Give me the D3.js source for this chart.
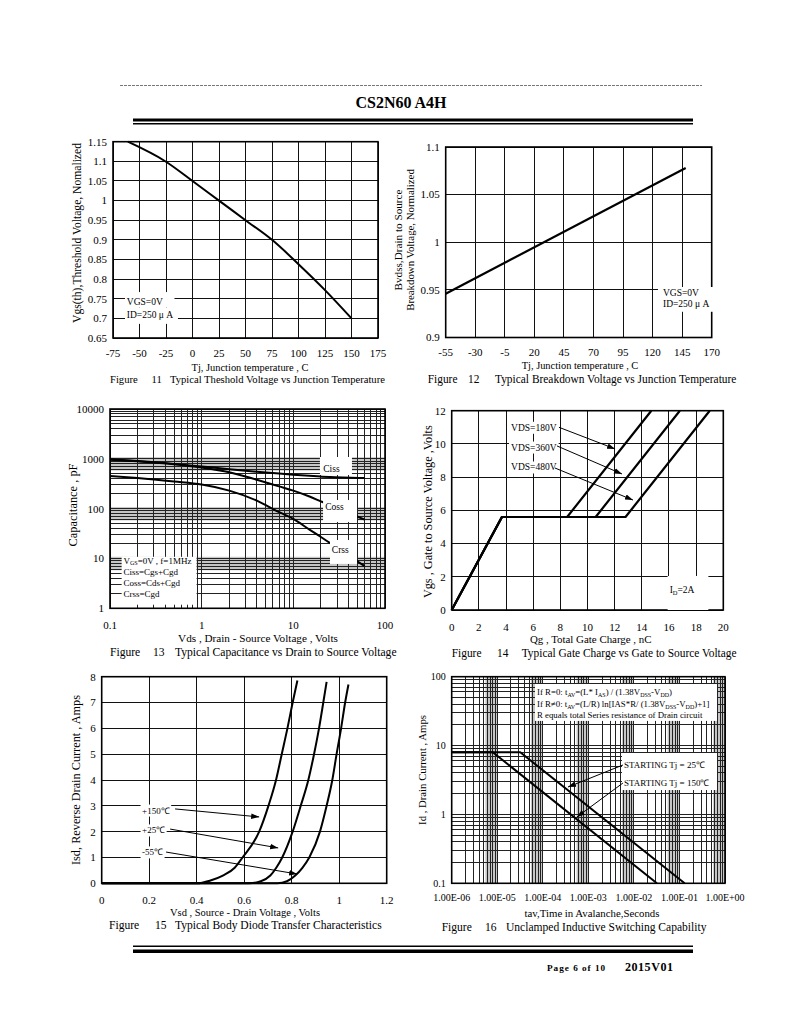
<!DOCTYPE html>
<html>
<head>
<meta charset="utf-8">
<script src="https://cdn.jsdelivr.net/npm/d3@7/dist/d3.min.js"></script>
<style>
  body { margin: 0; background: #fff; }
  svg text { font-family: "Liberation Serif", "Times New Roman", serif; fill: #000; }
</style>
</head>
<body>
<div id="page"></div>
<script>
// ---- Figure 11: threshold voltage vs Tj
var tjVth = [-61, -25, 0, 25, 50, 75, 100, 125, 150];
var vthNorm = [1.15, 1.099, 1.05, 1.0, 0.95, 0.9, 0.838, 0.772, 0.70];
var f11XTicks = [-75, -50, -25, 0, 25, 50, 75, 100, 125, 150, 175];
var f11YTicks = [0.65, 0.7, 0.75, 0.8, 0.85, 0.9, 0.95, 1, 1.05, 1.1, 1.15];
var f11YLabels = ["0.65", "0.7", "0.75", "0.8", "0.85", "0.9", "0.95", "1", "1.05", "1.1", "1.15"];

// ---- Figure 12: breakdown voltage vs Tj
var tjBv = [-55, 148];
var bvNorm = [0.946, 1.078];
var f12XTicks = [-55, -30, -5, 20, 45, 70, 95, 120, 145, 170];
var f12YTicks = [0.9, 0.95, 1, 1.05, 1.1];
var f12YLabels = ["0.9", "0.95", "1", "1.05", "1.1"];

// ---- Figure 13: capacitance vs Vds
var vdsCap = [0.1, 0.2, 0.5, 1, 2, 4, 7, 10, 15, 20, 25, 35, 60];
var ciss = [980, 900, 790, 700, 620, 550, 505, 480, 455, 440, 430, 420, 410];
var coss = [960, 890, 780, 670, 540, 380, 280, 230, 175, 140, 118, 92, 60];
var crss = [450, 410, 350, 305, 230, 145, 85, 62, 38, 27, 20.5, 13.5, 7];
var f13XTicks = [0.1, 1, 10, 100];
var f13XLabels = ["0.1", "1", "10", "100"];
var f13YTicks = [1, 10, 100, 1000, 10000];
var f13YLabels = ["1", "10", "100", "1000", "10000"];

// ---- Figure 14: gate charge
var vgsSteps = [0, 5.6, 5.6, 12];
var qg180 = [0, 3.7, 8.5, 14.7];
var qg360 = [0, 3.7, 10.6, 16.8];
var qg480 = [0, 3.7, 12.8, 19.0];
var f14XTicks = [0, 2, 4, 6, 8, 10, 12, 14, 16, 18, 20];
var f14YTicks = [0, 2, 4, 6, 8, 10, 12];

// ---- Figure 15: body diode
var isd150 = [0, 0, 0.1, 0.3, 0.6, 1, 2, 3, 4, 5, 6, 7, 7.85];
var vsd150 = [0, 0.40, 0.455, 0.51, 0.56, 0.593, 0.663, 0.702, 0.734, 0.758, 0.782, 0.804, 0.824];
var isd25 = [0, 0, 0.08, 0.3, 0.6, 1, 2, 3, 4, 5, 6, 7, 7.8];
var vsd25 = [0, 0.62, 0.67, 0.71, 0.735, 0.76, 0.804, 0.838, 0.870, 0.894, 0.915, 0.933, 0.947];
var isdM55 = [0, 0, 0.08, 0.3, 0.6, 1, 2, 3, 4, 5, 6, 7, 7.7];
var vsdM55 = [0, 0.74, 0.78, 0.815, 0.845, 0.874, 0.919, 0.947, 0.971, 0.989, 1.008, 1.025, 1.039];
var f15XTicks = [0, 0.2, 0.4, 0.6, 0.8, 1, 1.2];
var f15XLabels = ["0", "0.2", "0.4", "0.6", "0.8", "1", "1.2"];
var f15YTicks = [0, 1, 2, 3, 4, 5, 6, 7, 8];

// ---- Figure 16: UIS
var tav25 = [1e-6, 3.2e-5, 0.13];
var ias25 = [8, 8, 0.1];
var tav150 = [1e-6, 8e-6, 0.032];
var ias150 = [8, 8, 0.1];
var f16XTicks = [1e-6, 1e-5, 1e-4, 1e-3, 1e-2, 1e-1, 1];
var f16XLabels = ["1.00E-06", "1.00E-05", "1.00E-04", "1.00E-03", "1.00E-02", "1.00E-01", "1.00E+00"];
var f16YTicks = [0.1, 1, 10, 100];
var f16YLabels = ["0.1", "1", "10", "100"];

var svg = d3.select("#page").append("svg").attr("width", 800).attr("height", 1035);
svg.append("rect").attr("width", 800).attr("height", 1035).attr("fill", "#fff");

svg.append("defs").append("marker")
  .attr("id", "head").attr("viewBox", "0 0 10 10").attr("refX", 10).attr("refY", 5)
  .attr("markerUnits", "userSpaceOnUse").attr("markerWidth", 8).attr("markerHeight", 8)
  .attr("orient", "auto")
  .append("path").attr("d", "M0,1.5L10,5L0,8.5Z").attr("fill", "#000");

// scale text so it spans a given width
function fit(t, w) {
  var cur = t.node().getComputedTextLength();
  var fs = parseFloat(t.attr("font-size"));
  t.attr("font-size", (fs * w / cur).toFixed(2));
  return t;
}

function zip(xs, ys) { return xs.map(function (d, i) { return [d, ys[i]]; }); }

function panel(o) {
  var x = (o.xLog ? d3.scaleLog() : d3.scaleLinear()).domain(o.xDomain).range([o.left, o.right]);
  var y = (o.yLog ? d3.scaleLog() : d3.scaleLinear()).domain(o.yDomain).range([o.bottom, o.top]);
  var g = svg.append("g");
  var bands = g.append("g").attr("fill", "#c6c6c6");
  var grid = g.append("g").attr("stroke", o.gridColor || "#111").attr("stroke-width", 1)
    .attr("shape-rendering", "crispEdges");
  var xs = o.xLog ? x.ticks() : o.xTicks;
  var ys = o.yLog ? y.ticks() : o.yTicks;
  grid.selectAll("line.v").data(xs).join("line").attr("class", "v")
    .attr("x1", function (d) { return x(d); }).attr("x2", function (d) { return x(d); })
    .attr("y1", o.top).attr("y2", o.bottom);
  grid.selectAll("line.h").data(ys).join("line").attr("class", "h")
    .attr("y1", function (d) { return y(d); }).attr("y2", function (d) { return y(d); })
    .attr("x1", o.left).attr("x2", o.right);
  g.append("rect").attr("x", o.left).attr("y", o.top)
    .attr("width", o.right - o.left).attr("height", o.bottom - o.top)
    .attr("fill", "none").attr("stroke", "#000").attr("stroke-width", 1.6);

  var labels = g.append("g").attr("font-size", o.tickSize || 11);
  labels.selectAll("text.xt").data(o.xTicks).join("text").attr("class", "xt")
    .attr("x", function (d) { return x(d); }).attr("y", o.bottom + o.xTickGap)
    .attr("text-anchor", "middle")
    .text(function (d, i) { return o.xLabels ? o.xLabels[i] : d; });
  labels.selectAll("text.yt").data(o.yTicks).join("text").attr("class", "yt")
    .attr("x", o.left - 6).attr("y", function (d) { return y(d); }).attr("dy", "0.35em")
    .attr("text-anchor", "end")
    .text(function (d, i) { return o.yLabels ? o.yLabels[i] : d; });

  return { x: x, y: y, g: g, bands: bands, marks: g.append("g"), notes: g.append("g") };
}

function curve(p, pts, w, smooth) {
  var line = d3.line()
    .x(function (d) { return p.x(d[0]); }).y(function (d) { return p.y(d[1]); })
    .curve(smooth ? d3.curveMonotoneX : d3.curveLinear);
  p.marks.append("path").attr("d", line(pts)).attr("fill", "none")
    .attr("stroke", "#000").attr("stroke-width", w || 2).attr("stroke-linejoin", "round");
}

function xTitle(cx, base, s, w) {
  fit(svg.append("text").attr("x", cx).attr("y", base).attr("text-anchor", "middle")
    .attr("font-size", 11).text(s), w);
}
function yTitle(cx, cy, s, w, size) {
  var t = svg.append("text").attr("transform", "translate(" + cx + "," + cy + ") rotate(-90)")
    .attr("text-anchor", "middle").attr("dy", "0.35em").attr("font-size", size || 11).text(s);
  if (w) fit(t, w);
}
function caption(x0, xNum, xTitleStart, xEnd, base, num, title) {
  var t = fit(svg.append("text").attr("x", xTitleStart).attr("y", base).attr("font-size", 12).text(title),
    xEnd - xTitleStart);
  var fs = t.attr("font-size");
  svg.append("text").attr("x", x0).attr("y", base).attr("font-size", fs).text("Figure");
  svg.append("text").attr("x", xNum).attr("y", base).attr("font-size", fs).text(num);
}

// text made of plain and subscript parts: parts = ["V", ["GS"], "=0V"]
function rich(parent, x, y, size, parts) {
  var t = parent.append("text").attr("x", x).attr("y", y).attr("font-size", size);
  var down = false;
  parts.forEach(function (part) {
    var sub = Array.isArray(part);
    var s = t.append("tspan").text(sub ? part[0] : part);
    if (sub) {
      s.attr("font-size", size * 0.68);
      if (!down) s.attr("dy", size * 0.22);
      down = true;
    } else if (down) {
      s.attr("dy", -size * 0.22);
      down = false;
    }
  });
  return t;
}

function whiteBox(p, x0, x1, y0, y1) {
  p.notes.append("rect")
    .attr("x", p.x(x0)).attr("y", p.y(y1))
    .attr("width", p.x(x1) - p.x(x0)).attr("height", p.y(y0) - p.y(y1))
    .attr("fill", "#fff");
}
function backdrop(p, t, padX, padY) {
  var b = t.node().getBBox();
  p.notes.insert("rect", function () { return t.node(); })
    .attr("x", b.x - padX).attr("y", b.y - padY)
    .attr("width", b.width + 2 * padX).attr("height", b.height + 2 * padY).attr("fill", "#fff");
}
function arrow(p, from, to) {
  p.notes.append("line")
    .attr("x1", p.x(from[0])).attr("y1", p.y(from[1]))
    .attr("x2", p.x(to[0])).attr("y2", p.y(to[1]))
    .attr("stroke", "#000").attr("stroke-width", 1).attr("marker-end", "url(#head)");
}

// ---------------- header / footer
svg.append("line").attr("x1", 120).attr("x2", 702).attr("y1", 85.5).attr("y2", 85.5)
  .attr("stroke", "#777").attr("stroke-width", 1).attr("stroke-dasharray", "3,1");
svg.append("text").attr("x", 401).attr("y", 108).attr("text-anchor", "middle")
  .attr("font-size", 16).attr("font-weight", "bold").text("CS2N60 A4H");
svg.append("rect").attr("x", 133).attr("y", 118.5).attr("width", 560).attr("height", 3).attr("fill", "#000");
svg.append("rect").attr("x", 133).attr("y", 123).attr("width", 560).attr("height", 1.5).attr("fill", "#000");

svg.append("rect").attr("x", 133).attr("y", 945.5).attr("width", 560).attr("height", 1.5).attr("fill", "#000");
svg.append("rect").attr("x", 133).attr("y", 949.5).attr("width", 560).attr("height", 3.5).attr("fill", "#000");
fit(svg.append("text").attr("x", 547).attr("y", 971).attr("font-size", 8).attr("font-weight", "bold")
  .attr("letter-spacing", 1).text("Page 6 of 10"), 61);
fit(svg.append("text").attr("x", 625).attr("y", 971).attr("font-size", 10.5).attr("font-weight", "bold")
  .attr("letter-spacing", 0.5).text("2015V01"), 49);

// ---------------- Figure 11
var p11 = panel({
  left: 113, right: 378, top: 141.7, bottom: 338,
  xDomain: [-75, 175], yDomain: [0.65, 1.15],
  xTicks: f11XTicks, yTicks: f11YTicks, yLabels: f11YLabels, xTickGap: 18.5
});
curve(p11, zip(tjVth, vthNorm), 2, true);
whiteBox(p11, -63.7, -17, 0.728, 0.767);
whiteBox(p11, -63.7, -13.7, 0.686, 0.728);
p11.notes.append("text").attr("x", p11.x(-62)).attr("y", p11.y(0.734)).attr("font-size", 9.5).text("VGS=0V");
p11.notes.append("text").attr("x", p11.x(-62)).attr("y", p11.y(0.702)).attr("font-size", 9.5).text("ID=250 μ A");
yTitle(77, 233, "Vgs(th),Threshold Voltage, Nomalized", 180);
xTitle(250, 371, "Tj, Junction temperature , C", 117);
caption(110, 151.5, 170, 385, 383, "11", "Typical Theshold Voltage vs Junction Temperature");

// ---------------- Figure 12
var p12 = panel({
  left: 445.7, right: 711.7, top: 147, bottom: 337.5,
  xDomain: [-55, 170], yDomain: [0.9, 1.1],
  xTicks: f12XTicks, yTicks: f12YTicks, yLabels: f12YLabels, xTickGap: 18
});
curve(p12, zip(tjBv, bvNorm), 2.2, false);
whiteBox(p12, 124.6, 171.5, 0.927, 0.953);
p12.notes.append("text").attr("x", p12.x(128.8)).attr("y", p12.y(0.944)).attr("font-size", 9.5).text("VGS=0V");
p12.notes.append("text").attr("x", p12.x(128.8)).attr("y", p12.y(0.9315)).attr("font-size", 9.5).text("ID=250 μ A");
yTitle(398, 240, "Bvdss,Drain to Source", null, 11.2);
yTitle(410, 240, "Breakdown Voltage, Normalized", 141.7);
xTitle(580, 369, "Tj, Junction temperature , C", 116.7);
caption(427.7, 468, 495, 736.7, 382.5, "12", "Typical Breakdown Voltage vs Junction Temperature");

// ---------------- Figure 13
var p13 = panel({
  left: 110, right: 385, top: 409, bottom: 608.3, xLog: true, yLog: true,
  xDomain: [0.1, 100], yDomain: [1, 10000], gridColor: "#222",
  xTicks: f13XTicks, xLabels: f13XLabels, yTicks: f13YTicks, yLabels: f13YLabels, xTickGap: 20.7
});
[10, 100, 1000].forEach(function (d) {
  p13.bands.append("rect").attr("x", 110).attr("width", 275)
    .attr("y", p13.y(d * 1.08)).attr("height", p13.y(d * 0.58) - p13.y(d * 1.08));
});
curve(p13, zip(vdsCap, ciss), 2, true);
curve(p13, zip(vdsCap, coss), 2, true);
curve(p13, zip(vdsCap, crss), 2, true);
whiteBox(p13, 19.5, 43.6, 473, 1088);
whiteBox(p13, 21.1, 49.5, 54, 149);
whiteBox(p13, 25.1, 49.5, 7.76, 23.5);
[["Ciss", 21.2, 620], ["Coss", 22.3, 108], ["Crss", 26.3, 15.2]].forEach(function (c) {
  p13.notes.append("text").attr("x", p13.x(c[1])).attr("y", p13.y(c[2])).attr("dy", "0.35em")
    .attr("font-size", 9.5).text(c[0]);
});
whiteBox(p13, 0.134, 0.88, 1.18, 10.8);
rich(p13.notes, p13.x(0.14), 563.5, 9, ["V", ["GS"], "=0V , f=1MHz"]);
p13.notes.append("text").attr("x", p13.x(0.14)).attr("y", 575).attr("font-size", 9).text("Ciss=Cgs+Cgd");
p13.notes.append("text").attr("x", p13.x(0.14)).attr("y", 586).attr("font-size", 9).text("Coss=Cds+Cgd");
p13.notes.append("text").attr("x", p13.x(0.14)).attr("y", 597).attr("font-size", 9).text("Crss=Cgd");
yTitle(73, 505, "Capacitance , pF", 83);
xTitle(258, 642, "Vds , Drain - Source Voltage , Volts", 160);
caption(110, 153, 175, 396.7, 656, "13", "Typical Capacitance vs Drain to Source Voltage");

// ---------------- Figure 14
var p14 = panel({
  left: 451.7, right: 723.3, top: 410.7, bottom: 610,
  xDomain: [0, 20], yDomain: [0, 12],
  xTicks: f14XTicks, yTicks: f14YTicks, xTickGap: 20.5
});
curve(p14, zip(qg180, vgsSteps), 2.2, false);
curve(p14, zip(qg360, vgsSteps), 2.2, false);
curve(p14, zip(qg480, vgsSteps), 2.2, false);
[
  ["VDS=180V", 10.79, [7.9, 11.0], [12.03, 9.7]],
  ["VDS=360V", 9.6, [7.75, 9.88], [12.54, 8.19]],
  ["VDS=480V", 8.4, [7.6, 8.55], [13.35, 6.62]]
].forEach(function (a) {
  var t = p14.notes.append("text").attr("x", p14.x(4.37)).attr("y", p14.y(a[1]))
    .attr("font-size", 9.5).text(a[0]);
  backdrop(p14, t, 2, 1);
  arrow(p14, a[2], a[3]);
});
whiteBox(p14, 15.9, 18.9, 0, 2.05);
rich(p14.notes, p14.x(16.05), p14.y(1.02), 9.5, ["I", ["D"], "=2A"]);
yTitle(428, 511.7, "Vgs , Gate to Source Voltage ,Volts", 173);
xTitle(590.7, 643, "Qg , Total Gate Charge , nC", 121.7);
caption(451.7, 497, 521.7, 736.7, 657, "14", "Typical Gate Charge vs Gate to Source Voltage");

// ---------------- Figure 15
var p15 = panel({
  left: 101.7, right: 386.7, top: 676.7, bottom: 883.3,
  xDomain: [0, 1.2], yDomain: [0, 8],
  xTicks: f15XTicks, xLabels: f15XLabels, yTicks: f15YTicks, xTickGap: 20.7
});
curve(p15, zip(vsd150, isd150), 2, true);
curve(p15, zip(vsd25, isd25), 2, true);
curve(p15, zip(vsdM55, isdM55), 2, true);
[
  ["+150℃", 2.70, [0.309, 2.88], [0.663, 2.57]],
  ["+25℃", 1.93, [0.288, 2.10], [0.743, 1.37]],
  ["-55℃", 1.08, [0.271, 1.21], [0.823, 0.36]]
].forEach(function (a) {
  var t = p15.notes.append("text").attr("x", p15.x(0.17)).attr("y", p15.y(a[1]))
    .attr("font-size", 9).text(a[0]);
  backdrop(p15, t, 1.5, 1);
  arrow(p15, a[2], a[3]);
});
yTitle(76, 780, "Isd, Reverse Drain Current , Amps", 170);
xTitle(245, 915.5, "Vsd , Source - Drain Voltage , Volts", 150);
caption(109, 155, 175, 381.7, 929, "15", "Typical Body Diode Transfer Characteristics");

// ---------------- Figure 16
var p16 = panel({
  left: 451.7, right: 725, top: 676.7, bottom: 883.3, xLog: true, yLog: true,
  xDomain: [1e-6, 1], yDomain: [0.1, 100], gridColor: "#222", tickSize: 10,
  xTicks: f16XTicks, xLabels: f16XLabels, yTicks: f16YTicks, yLabels: f16YLabels, xTickGap: 17.5
});
[1e-6, 1e-5, 1e-4, 1e-3, 1e-2, 1e-1].forEach(function (d) {
  p16.bands.append("rect").attr("y", 676.7).attr("height", 206.6)
    .attr("x", p16.x(d * 5.5)).attr("width", p16.x(d * 10) - p16.x(d * 5.5));
});
curve(p16, zip(tav25, ias25), 2, false);
curve(p16, zip(tav150, ias150), 2, false);
whiteBox(p16, 6.74e-5, 0.667, 22.8, 78.3);
rich(p16.notes, p16.x(7.46e-5), p16.y(54.2), 8.8,
  ["If R=0: t", ["AV"], "=(L* I", ["AS"], ") / (1.38V", ["DSS"], "-V", ["DD"], ")"]);
rich(p16.notes, p16.x(7.46e-5), p16.y(36.3), 8.8,
  ["If R≠0: t", ["AV"], "=(L/R) ln[IAS*R/ (1.38V", ["DSS"], "-V", ["DD"], ")+1]"]);
p16.notes.append("text").attr("x", p16.x(7.46e-5)).attr("y", p16.y(25.1)).attr("font-size", 8.8)
  .text("R equals total Series resistance of Drain circuit");
whiteBox(p16, 5.48e-3, 0.667, 2.26, 7.8);
p16.notes.append("text").attr("x", p16.x(6.07e-3)).attr("y", p16.y(4.8)).attr("font-size", 9)
  .text("STARTING Tj = 25℃");
p16.notes.append("text").attr("x", p16.x(6.07e-3)).attr("y", p16.y(2.63)).attr("font-size", 9)
  .text("STARTING Tj = 150℃");
arrow(p16, [5.75e-3, 5.22], [3.57e-4, 2.5]);
arrow(p16, [5.75e-3, 2.86], [5.6e-4, 0.918]);
yTitle(422, 770, "Id , Drain Current , Amps", 110);
xTitle(592, 916.5, "tav,Time in Avalanche,Seconds", 135);
caption(441.7, 485, 506, 706.7, 930.7, "16", "Unclamped Inductive Switching Capability");
</script>
</body>
</html>
